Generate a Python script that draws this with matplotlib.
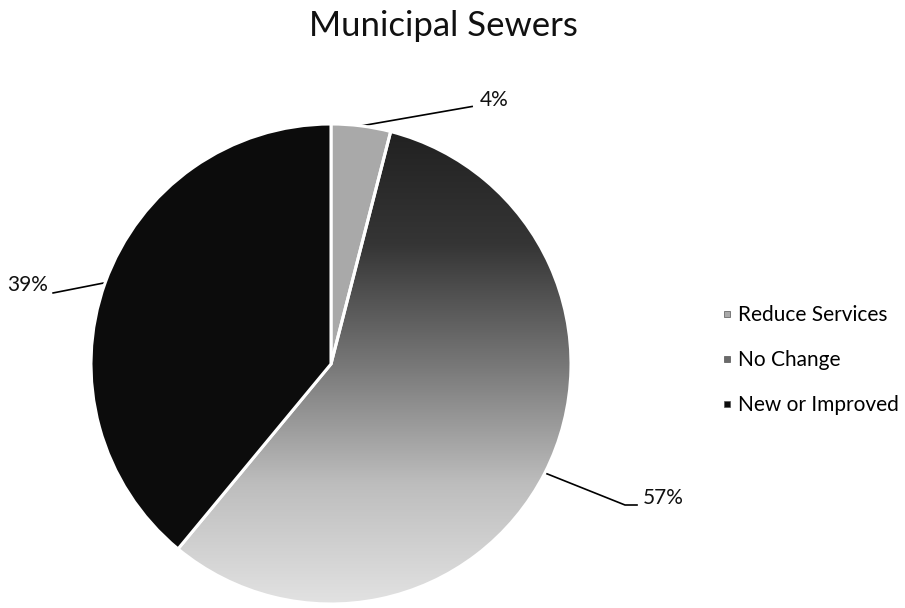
import matplotlib
matplotlib.use("Agg")
import matplotlib.pyplot as plt
import numpy as np
from matplotlib.colors import LinearSegmentedColormap
from matplotlib.lines import Line2D

plt.rcParams['font.family'] = ['Lato', 'DejaVu Sans']

# data
categories = ['Reduce Services', 'No Change', 'New or Improved']
shares = [4, 57, 39]
pct_labels = ['4%', '57%', '39%']
colors = ['#a9a9a9', '#6a6a6a', '#0c0c0c']

fig = plt.figure(figsize=(9.05, 6.08), dpi=100)
# pie centre at (331, 364) px, radius 240 px
ax = fig.add_axes([91 / 905, 4 / 608, 480 / 905, 480 / 608])

wedges, _ = ax.pie(shares, colors=colors, startangle=90, counterclock=False,
                   radius=1, wedgeprops=dict(edgecolor='white', linewidth=2.2))
ax.set_aspect('equal')
ax.axis('off')

# vertical gradient for "No Change": dark on top, pale at the bottom
grad_cmap = LinearSegmentedColormap.from_list(
    'g', [(0.0, '#e2e2e2'), (0.25, '#bdbdbd'), (0.5, '#777777'),
          (0.75, '#353535'), (1.0, '#202020')])
grad = np.linspace(0, 1, 256).reshape(-1, 1)
im = ax.imshow(grad, cmap=grad_cmap, extent=[-1, 1, -1, 1], origin='lower',
               aspect='auto', zorder=2.5)
im.set_clip_path(wedges[1])
# keep the white separator on top
for w in wedges:
    w.set_zorder(3)
wedges[1].set_facecolor('none')
ax.set_xlim(-1, 1)
ax.set_ylim(-1, 1)

# percent labels with leader lines (axes data coords, radius = 1)
mids = []
start = 90.0
for s in shares:
    ang = start - s * 3.6 / 2
    mids.append(np.deg2rad(ang))
    start -= s * 3.6

lab_kw = dict(fontsize=15, color='#111111', va='center')
# 4%
p = (np.cos(mids[0]), np.sin(mids[0]))
ax.plot([p[0], 0.588], [p[1], 1.073], color='black', lw=1.2, clip_on=False)
ax.text(0.62, 1.10, pct_labels[0], ha='left', **lab_kw)
# 57%
p = (np.cos(mids[1]), np.sin(mids[1]))
ax.plot([p[0], 1.225, 1.275], [p[1], -0.5875, -0.5875], color='black', lw=1.2, clip_on=False)
ax.text(1.30, -0.56, pct_labels[1], ha='left', **lab_kw)
# 39%
p = (np.cos(mids[2]), np.sin(mids[2]))
ax.plot([p[0], -1.158], [p[1], 0.296], color='black', lw=1.2, clip_on=False)
ax.text(-1.18, 0.33, pct_labels[2], ha='right', **lab_kw)

fig.suptitle('Municipal Sewers', x=443 / 905, y=1 - 26 / 608, va='center',
             fontsize=25, color='#111111')

handles = [Line2D([], [], marker='s', linestyle='none', markersize=5,
                  markerfacecolor=c, markeredgecolor='#555555', markeredgewidth=0.5)
           for c in colors]
fig.legend(handles, categories, loc='center left', bbox_to_anchor=(710 / 905, 1 - 360 / 608),
           frameon=False, fontsize=15, handlelength=0.6, handletextpad=0.25,
           labelspacing=1.2, borderpad=0)

fig.savefig('out.png', dpi=100)
